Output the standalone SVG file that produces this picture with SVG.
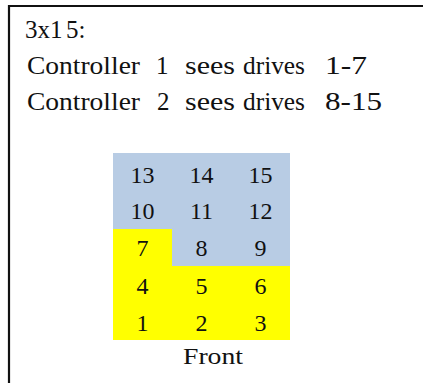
<svg xmlns="http://www.w3.org/2000/svg" width="423" height="383" viewBox="0 0 423 383">
<style>
text{font-family:"Liberation Serif","Times New Roman",serif;fill:#111}
.hd{font-size:25px}
.n{font-size:24px;text-anchor:middle}
.blue{fill:#B8CCE4}
.yel{fill:#FFFF00}
</style>
<rect x="0" y="0" width="423" height="383" fill="#fff"/>
<path d="M9 383 V6 H423" fill="none" stroke="#111" stroke-width="2.2"/>
<g id="header" class="hd">
<text y="38"><tspan x="25">3x1</tspan><tspan x="66">5:</tspan></text>
<text y="74"><tspan x="27" textLength="113" lengthAdjust="spacingAndGlyphs">Controller</tspan><tspan x="156">1</tspan><tspan x="185" textLength="50" lengthAdjust="spacingAndGlyphs">sees</tspan><tspan x="243" textLength="62" lengthAdjust="spacingAndGlyphs">drives</tspan><tspan x="325" textLength="42" lengthAdjust="spacingAndGlyphs">1-7</tspan></text>
<text y="110"><tspan x="27" textLength="113" lengthAdjust="spacingAndGlyphs">Controller</tspan><tspan x="157">2</tspan><tspan x="185" textLength="50" lengthAdjust="spacingAndGlyphs">sees</tspan><tspan x="243" textLength="62" lengthAdjust="spacingAndGlyphs">drives</tspan><tspan x="325" textLength="57" lengthAdjust="spacingAndGlyphs">8-15</tspan></text>
</g>
<g id="grid">
<polygon class="blue" points="113,153 290,153 290,266 172,266 172,229 113,229"/>
<polygon class="yel" points="113,229 172,229 172,266 290,266 290,340 113,340"/>
<g id="drives">
<text class="n" x="142.5" y="183">13</text><text class="n" x="201.5" y="183">14</text><text class="n" x="260.5" y="183">15</text>
<text class="n" x="142.5" y="219">10</text><text class="n" x="201.5" y="219">11</text><text class="n" x="260.5" y="219">12</text>
<text class="n" x="142.5" y="256">7</text><text class="n" x="201.5" y="256">8</text><text class="n" x="260.5" y="256">9</text>
<text class="n" x="142.5" y="294">4</text><text class="n" x="201.5" y="294">5</text><text class="n" x="260.5" y="294">6</text>
<text class="n" x="142.5" y="331">1</text><text class="n" x="201.5" y="331">2</text><text class="n" x="260.5" y="331">3</text>
</g>
<text id="front" x="183" y="364" font-size="24" textLength="60" lengthAdjust="spacingAndGlyphs">Front</text>
</g>
</svg>
